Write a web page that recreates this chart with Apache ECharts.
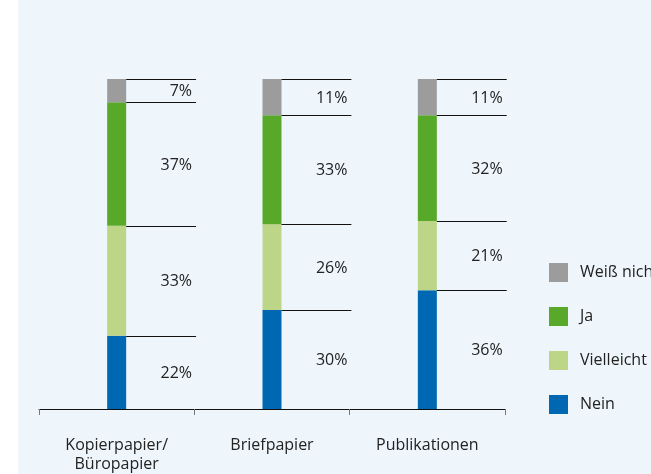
<!DOCTYPE html>
<html><head><meta charset="utf-8">
<script src="https://cdn.jsdelivr.net/npm/echarts@6/dist/echarts.min.js"></script>
<style>html,body{margin:0;padding:0;background:#fff}#c{width:651px;height:474px}</style>
</head><body><div id="c"></div>
<script>
const categories = ['Kopierpapier/\nBüropapier', 'Briefpapier', 'Publikationen'];
const nein = [22, 30, 36];
const vielleicht = [33, 26, 21];
const ja = [37, 33, 32];
const weissNicht = [7, 11, 11];

const seriesDefs = [
  {name: 'Nein', data: nein, color: '#0068b2'},
  {name: 'Vielleicht', data: vielleicht, color: '#bcd587'},
  {name: 'Ja', data: ja, color: '#58a92a'},
  {name: 'Weiß nicht', data: weissNicht, color: '#9c9c9c'}
];
// normalise each column to 100 %
const totals = categories.map((_, i) => seriesDefs.reduce((s, d) => s + d.data[i], 0));
const shares = seriesDefs.map(d => d.data.map((v, i) => v / totals[i] * 100));

const FONT = '"Open Sans", "Noto Sans", sans-serif';
const BAR_W = 19;

// custom series data: [catIndex, bottom, top, label]
const segData = [];
categories.forEach((_, i) => {
  let cum = 0;
  seriesDefs.forEach((d, k) => {
    const b = cum; cum += shares[k][i];
    segData.push([i, b, cum, d.data[i] + '%']);
  });
});

const chart = echarts.init(document.getElementById('c'), null, {renderer: 'canvas'});
chart.setOption({
  backgroundColor: '#eef6fc',
  animation: false,
  graphic: [{type: 'rect', left: 0, top: 0, shape: {x: 0, y: 0, width: 18, height: 474}, style: {fill: '#ffffff'}, z: -10}],
  grid: {left: 39, right: 146, top: 79, bottom: 61},
  legend: {
    orient: 'vertical', left: 549, top: 263, itemWidth: 19, itemHeight: 19, itemGap: 25, padding: 0,
    icon: 'rect',
    data: ['Weiß nicht', 'Ja', 'Vielleicht', 'Nein'],
    textStyle: {fontFamily: FONT, fontSize: 16, color: '#222', padding: [0, 0, 0, 7]}
  },
  xAxis: {
    type: 'category', data: categories,
    axisLine: {lineStyle: {color: '#111', width: 1}},
    axisTick: {show: true, length: 6, lineStyle: {color: '#777'}},
    axisLabel: {fontFamily: FONT, fontSize: 16, color: '#222', margin: 27, lineHeight: 19}
  },
  yAxis: {type: 'value', min: 0, max: 100, show: false, splitLine: {show: false}},
  series: seriesDefs.map((d, k) => ({
    name: d.name, type: 'bar', stack: 'all', barWidth: BAR_W,
    itemStyle: {color: d.color},
    data: shares[k]
  })).concat([{
    type: 'custom', name: 'lines', silent: true, z: 5,
    renderItem: function (params, api) {
      const i = api.value(0);
      const pb = api.coord([i, api.value(1)]);
      const pt = api.coord([i, api.value(2)]);
      const band = api.size([1, 0])[0];
      const x0 = pb[0] + BAR_W / 2;
      const len = band * 0.45;
      return {
        type: 'group', children: [
          {type: 'line', shape: {x1: x0, y1: Math.round(pt[1]) + 0.5, x2: x0 + len, y2: Math.round(pt[1]) + 0.5},
           style: {stroke: '#111', lineWidth: 1}},
          {type: 'text', style: {text: api.value(3), x: x0 + len - 4, y: (pb[1] + pt[1]) / 2 + 1,
            textAlign: 'right', textVerticalAlign: 'middle', font: '16px ' + FONT, fill: '#222'}}
        ]
      };
    },
    encode: {x: 0, y: [1, 2]},
    data: segData
  }])
});
</script></body></html>
